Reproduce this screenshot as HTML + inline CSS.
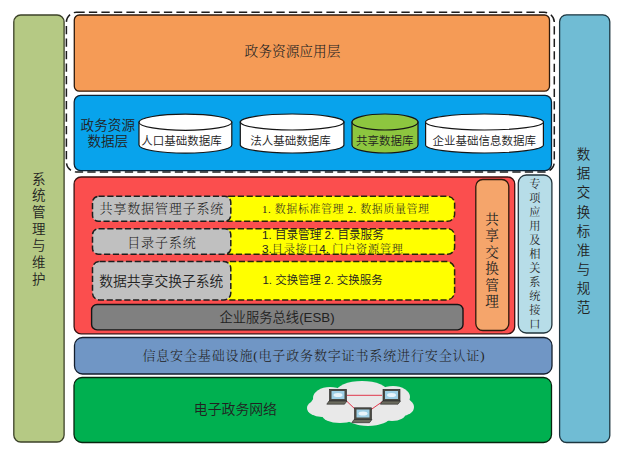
<!DOCTYPE html>
<html lang="zh">
<head>
<meta charset="utf-8">
<title>政务资源共享交换平台架构</title>
<style>
html,body{margin:0;padding:0;background:#fff;}
body{width:624px;height:455px;overflow:hidden;}
svg{display:block;}
.hei{font-family:"Liberation Sans","Noto Sans CJK SC","WenQuanYi Zen Hei",sans-serif;}
.song{font-family:"Liberation Serif","Noto Serif CJK SC",serif;font-weight:300;}
text{fill:#222;}
</style>
</head>
<body>
<svg width="624" height="455" viewBox="0 0 624 455">
<rect x="0" y="0" width="624" height="455" fill="#ffffff"/>

<!-- left bar -->
<rect x="13.8" y="15" width="50.3" height="427" rx="7" ry="7" fill="#b5c984" stroke="#3c4228" stroke-width="1.3"/>
<g class="hei" font-size="13.5" font-weight="350" text-anchor="middle" fill="#1e2216">
<text x="38.8" y="183.50">系</text>
<text x="38.8" y="200.22">统</text>
<text x="38.8" y="216.94">管</text>
<text x="38.8" y="233.66">理</text>
<text x="38.8" y="250.38">与</text>
<text x="38.8" y="267.10">维</text>
<text x="38.8" y="283.82">护</text>
</g>

<!-- right bar -->
<rect x="559.6" y="14.8" width="50.2" height="427.7" rx="7" ry="7" fill="#70bcd4" stroke="#1d3640" stroke-width="1.3"/>
<g class="hei" font-size="13.5" font-weight="350" text-anchor="middle" fill="#14252c">
<text x="583.5" y="159.30">数</text>
<text x="583.5" y="178.38">据</text>
<text x="583.5" y="197.46">交</text>
<text x="583.5" y="216.54">换</text>
<text x="583.5" y="235.62">标</text>
<text x="583.5" y="254.70">准</text>
<text x="583.5" y="273.78">与</text>
<text x="583.5" y="292.86">规</text>
<text x="583.5" y="311.94">范</text>
</g>

<!-- dashed group outline -->
<rect x="66.4" y="12.3" width="487.9" height="159.7" rx="10" ry="10" fill="none" stroke="#1c1c1c" stroke-width="1.5" stroke-dasharray="8.3 4.2"/>

<!-- orange application layer -->
<rect x="74.3" y="15" width="475.2" height="76.2" rx="5" ry="5" fill="#f59b56" stroke="#2e1a0c" stroke-width="1.3"/>
<text class="song" x="292.5" y="55.5" font-size="13.7" text-anchor="middle" fill="#3a2412">政务资源应用层</text>

<!-- blue data layer -->
<rect x="74.2" y="95.4" width="477.3" height="75.2" rx="6.5" ry="6.5" fill="#08a3ec" stroke="#0a2438" stroke-width="1.3"/>
<g class="hei" font-size="13.6" font-weight="350" text-anchor="middle" fill="#0b2c46">
<text x="107.8" y="129.9">政务资源</text>
<text x="107.8" y="146">数据层</text>
</g>

<!-- cylinders -->
<g stroke="#151515" stroke-width="1.2">
<path d="M139 122.2 V145 A46.4 8.1 0 0 0 231.8 145 V122.2 Z" fill="#fff"/>
<ellipse cx="185.4" cy="122.2" rx="46.4" ry="8.1" fill="#fff"/>
<path d="M240.3 122 V145 A51.8 8 0 0 0 343.9 145 V122 Z" fill="#fff"/>
<ellipse cx="292.1" cy="122" rx="51.8" ry="8" fill="#fff"/>
<path d="M352 122 V145 A33 8 0 0 0 418 145 V122 Z" fill="#8dc63f"/>
<ellipse cx="385" cy="122" rx="33" ry="8" fill="#8dc63f"/>
<path d="M425.6 122 V145 A58.9 8 0 0 0 543.4 145 V122 Z" fill="#fff"/>
<ellipse cx="484.5" cy="122" rx="58.9" ry="8" fill="#fff"/>
</g>
<g class="hei" font-size="11.5" font-weight="350" text-anchor="middle" fill="#1a1a1a">
<text x="181.6" y="144.8">人口基础数据库</text>
<text x="290.4" y="144.8">法人基础数据库</text>
<text x="384.8" y="144.8">共享数据库</text>
<text x="484.3" y="144.8">企业基础信息数据库</text>
</g>

<!-- red platform box -->
<rect x="74.1" y="177" width="440.6" height="156.8" rx="7" ry="7" fill="#fb4e4e" stroke="#3a1010" stroke-width="1.3"/>

<!-- yellow boxes -->
<g fill="#ffff00" stroke="#26260a" stroke-width="1.5" stroke-dasharray="6.2 2.6">
<rect x="222" y="196.3" width="232.6" height="25" rx="7" ry="7"/>
<rect x="222" y="228.7" width="232.6" height="25.6" rx="7" ry="7"/>
<rect x="222" y="261.5" width="232.6" height="38.5" rx="8" ry="8"/>
</g>
<!-- gray boxes -->
<g fill="#c0c0c0" stroke="#1e1e1e" stroke-width="1.5" stroke-dasharray="6.2 2.6">
<rect x="92.5" y="196.3" width="138.3" height="25" rx="6" ry="6"/>
<rect x="92.5" y="228.7" width="138.3" height="25.6" rx="6" ry="6"/>
<rect x="92.5" y="261.5" width="138.3" height="38.5" rx="7" ry="7"/>
</g>
<text class="song" x="161.9" y="213.4" font-size="13" letter-spacing="0.85" text-anchor="middle" fill="#1a1a1a">共享数据管理子系统</text>
<text class="song" x="161.9" y="246.6" font-size="13" letter-spacing="0.85" text-anchor="middle" fill="#1a1a1a">目录子系统</text>
<text class="hei" x="161.3" y="286.3" font-size="13.8" font-weight="350" text-anchor="middle" fill="#1a1a1a">数据共享交换子系统</text>

<text class="song" x="262" y="212.7" font-size="10.95" letter-spacing="0.62" fill="#2c2c0c" xml:space="preserve">1. 数据标准管理 2. 数据质量管理</text>
<text class="hei" x="262" y="239.2" font-size="11.6" font-weight="350" fill="#2c2c0c" xml:space="preserve">1. 目录管理 2. 目录服务</text>
<text x="262" y="252.8" font-size="11.7" fill="#2c2c0c" xml:space="preserve"><tspan class="hei" font-weight="350">3.</tspan><tspan class="song" font-size="11.1" letter-spacing="0.8">目录接口</tspan><tspan class="hei" font-weight="350">4. </tspan><tspan class="song" font-size="11.1" letter-spacing="0.8">门户资源管理</tspan></text>
<text class="hei" x="262.5" y="284.1" font-size="11.45" font-weight="350" fill="#2c2c0c" xml:space="preserve">1. 交换管理 2. 交换服务</text>

<!-- ESB -->
<rect x="91.6" y="304.5" width="371.4" height="25.4" rx="5.5" ry="5.5" fill="#808080" stroke="#151515" stroke-width="1.4"/>
<text class="hei" x="277" y="321.9" font-size="13.3" font-weight="350" text-anchor="middle" fill="#161616">企业服务总线(ESB)</text>

<!-- vertical orange: shared exchange management -->
<rect x="475.8" y="179.5" width="33" height="151" rx="7" ry="7" fill="#f5a56b" stroke="#2e1a0c" stroke-width="1.3"/>
<g class="song" style="font-weight:400" font-size="13.6" text-anchor="middle" fill="#2e1c0e">
<text x="492" y="224.00">共</text>
<text x="492" y="240.40">享</text>
<text x="492" y="256.80">交</text>
<text x="492" y="273.20">换</text>
<text x="492" y="289.60">管</text>
<text x="492" y="306.00">理</text>
</g>

<!-- light blue: special applications -->
<rect x="518.3" y="175" width="33.6" height="158" rx="8" ry="8" fill="#b7dde8" stroke="#22343c" stroke-width="1.3"/>
<g class="song" style="font-weight:400" font-size="11.2" text-anchor="middle" fill="#1f3642">
<text x="534.8" y="188.00">专</text>
<text x="534.8" y="201.95">项</text>
<text x="534.8" y="215.90">应</text>
<text x="534.8" y="229.85">用</text>
<text x="534.8" y="243.80">及</text>
<text x="534.8" y="257.75">相</text>
<text x="534.8" y="271.70">关</text>
<text x="534.8" y="285.65">系</text>
<text x="534.8" y="299.60">统</text>
<text x="534.8" y="313.55">接</text>
<text x="534.8" y="327.50">口</text>
</g>

<!-- security infrastructure -->
<rect x="74.5" y="337.5" width="477.5" height="36.5" rx="8" ry="8" fill="#7096c5" stroke="#141f2e" stroke-width="1.3"/>
<text class="song" x="142.4" y="359.7" font-size="13" letter-spacing="0.86" fill="#121c2a">信息安全基础设施(电子政务数字证书系统进行安全认证)</text>

<!-- network -->
<rect x="74" y="377.5" width="477.5" height="65" rx="8" ry="8" fill="#00b050" stroke="#06260f" stroke-width="1.3"/>
<text class="hei" x="235.4" y="414.4" font-size="13.85" font-weight="350" text-anchor="middle" fill="#082d13">电子政务网络</text>

<!-- cloud -->
<g fill="#e9e9e9">
<ellipse cx="361" cy="404" rx="50" ry="17"/>
<ellipse cx="330" cy="398" rx="17" ry="11"/>
<ellipse cx="362" cy="392" rx="26" ry="11"/>
<ellipse cx="393" cy="397" rx="17" ry="11"/>
<ellipse cx="322" cy="408" rx="15" ry="9"/>
<ellipse cx="402" cy="407" rx="12" ry="9"/>
<ellipse cx="340" cy="415" rx="18" ry="8"/>
<ellipse cx="368" cy="417" rx="22" ry="9"/>
<ellipse cx="392" cy="413" rx="14" ry="8"/>
</g>
<!-- red links -->
<g stroke="#e0243a" stroke-width="0.9" fill="none">
<line x1="347" y1="395.3" x2="382" y2="395.3"/>
<line x1="346" y1="400.5" x2="356" y2="410"/>
<line x1="384" y1="400.5" x2="369" y2="411"/>
</g>
<!-- laptops -->
<g>
<rect x="329.5" y="389.3" width="17" height="11.5" fill="#4a4a42" stroke="#222" stroke-width="0.6"/>
<rect x="331.5" y="391" width="13" height="8" fill="#9fd0e6"/>
<ellipse cx="338" cy="395" rx="4.5" ry="2" fill="#e8f4fa"/>
<path d="M329 401 L347 401 L344.5 404.2 L326.8 404.2 Z" fill="#6b6b5e" stroke="#222" stroke-width="0.6"/>
</g>
<g>
<rect x="383" y="389.3" width="17" height="11.5" fill="#4a4a42" stroke="#222" stroke-width="0.6"/>
<rect x="385" y="391" width="13" height="8" fill="#9fd0e6"/>
<ellipse cx="391.5" cy="395" rx="4.5" ry="2" fill="#e8f4fa"/>
<path d="M382.5 401 L400.5 401 L398 404.2 L380.3 404.2 Z" fill="#6b6b5e" stroke="#222" stroke-width="0.6"/>
</g>
<g>
<rect x="354.5" y="407.8" width="17" height="11.5" fill="#4a4a42" stroke="#222" stroke-width="0.6"/>
<rect x="356.500" y="409.5" width="13" height="8" fill="#9fd0e6"/>
<ellipse cx="363" cy="413.5" rx="4.5" ry="2" fill="#e8f4fa"/>
<path d="M354 419.5 L372 419.5 L369.5 422.7 L351.8 422.7 Z" fill="#6b6b5e" stroke="#222" stroke-width="0.6"/>
</g>
</svg>
</body>
</html>
